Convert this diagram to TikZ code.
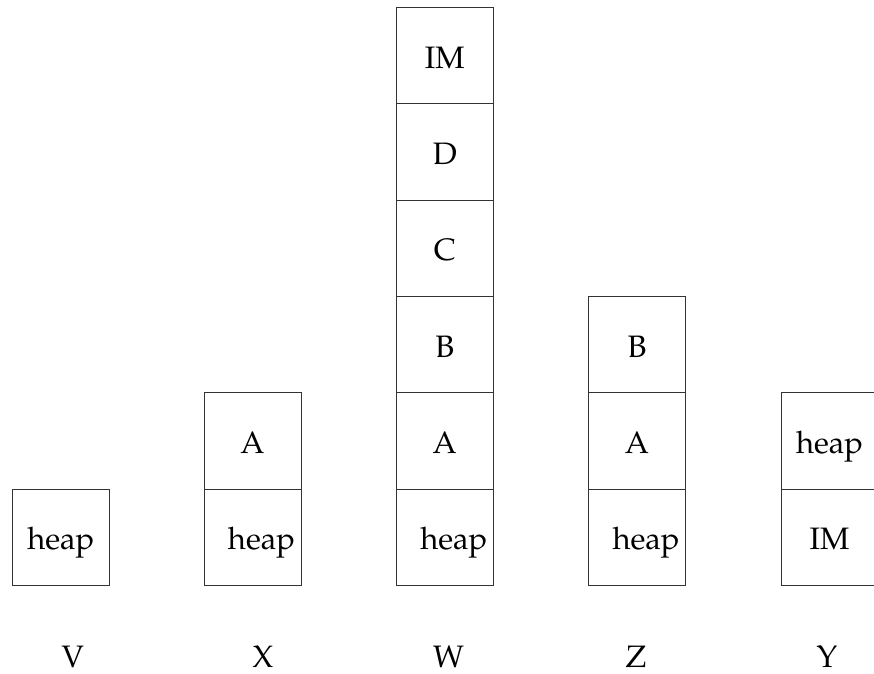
\documentclass[tikz,border=0pt]{standalone}
\usepackage[T1]{fontenc}
\usepackage{mathpazo}
\begin{document}
\begin{tikzpicture}[x=1pt,y=-1pt,
  cell/.style={draw=black!80,line width=1pt,rectangle,inner sep=0pt,
    minimum width=97pt,minimum height=96.3pt,
    text height=25pt,text depth=0pt,
    font=\fontsize{31}{37}\selectfont},
  colname/.style={anchor=base,inner sep=0pt,font=\fontsize{31}{37}\selectfont}]
\useasboundingbox (0,0) rectangle (874,673);
\begin{scope}
\clip (0,0) rectangle (874,673);
% column V
\node[cell] (v1) at (60.8,537.3) {heap};
% column X
\node[cell] (x1) at (252.5,537.3) {\hspace*{18pt}heap};
\node[cell] (x2) at (252.5,441.0) {A};
% column W
\node[cell] (w1) at (444.8,537.3) {\hspace*{18pt}heap};
\node[cell] (w2) at (444.8,441.0) {A};
\node[cell] (w3) at (444.8,344.7) {B};
\node[cell] (w4) at (444.8,248.4) {C};
\node[cell] (w5) at (444.8,152.1) {D};
\node[cell] (w6) at (444.8,55.8) {IM};
% column Z
\node[cell] (z1) at (637.0,537.3) {\hspace*{18pt}heap};
\node[cell] (z2) at (637.0,441.0) {A};
\node[cell] (z3) at (637.0,344.7) {B};
% column Y
\node[cell] (y1) at (829.5,537.3) {IM};
\node[cell] (y2) at (829.5,441.0) {heap};
\end{scope}
% column names
\node[colname] (nv) at (72.8,667.5) {V};
\node[colname] (nx) at (263,667.5) {X};
\node[colname] (nw) at (448.5,667.5) {W};
\node[colname] (nz) at (636,667.5) {Z};
\node[colname] (ny) at (827,667.5) {Y};
\end{tikzpicture}
\end{document}
